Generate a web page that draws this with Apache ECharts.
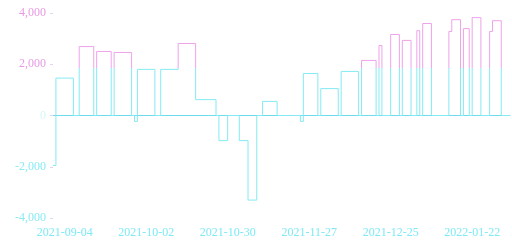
<!DOCTYPE html>
<html>
<head>
<meta charset="utf-8">
<script src="https://cdn.jsdelivr.net/npm/echarts@6/dist/echarts.min.js"></script>
<style>
  html, body { margin: 0; padding: 0; background: #fff; }
  #main { width: 512px; height: 242px; }
</style>
</head>
<body>
<div id="main"></div>
<script>
// step points: value holds from its date until the next date
const stepDates = [
    '2021-08-31', '2021-09-01', '2021-09-07', '2021-09-09', '2021-09-14',
    '2021-09-15', '2021-09-20', '2021-09-21', '2021-09-27', '2021-09-28',
    '2021-09-29', '2021-10-05', '2021-10-07', '2021-10-13', '2021-10-19',
    '2021-10-26', '2021-10-27', '2021-10-30', '2021-11-03', '2021-11-06',
    '2021-11-09', '2021-11-11', '2021-11-16', '2021-11-24', '2021-11-25',
    '2021-11-30', '2021-12-01', '2021-12-07', '2021-12-08', '2021-12-14',
    '2021-12-15', '2021-12-20', '2021-12-21', '2021-12-22', '2021-12-25',
    '2021-12-28', '2021-12-29', '2022-01-01', '2022-01-03', '2022-01-04',
    '2022-01-05', '2022-01-08', '2022-01-14', '2022-01-15', '2022-01-18',
    '2022-01-19', '2022-01-21', '2022-01-22', '2022-01-25', '2022-01-28',
    '2022-01-29', '2022-02-01', '2022-02-04'
];
const stepValues = [
    -1950, 1460, 0, 2690, 0,
    2500, 0, 2460, 0, -230,
    1800, 0, 1800, 2810, 620,
    0, -980, 0, -980, -3300,
    0, 550, 0, -230, 1640,
    0, 1050, 0, 1720, 0,
    2150, 0, 2730, 0, 3160,
    0, 2930, 0, 3310, 0,
    3590, 0, 3280, 3740, 0,
    3390, 0, 3820, 0, 3280,
    3700, 0, 0
];
const tickDates = ['2021-09-04', '2021-10-02', '2021-10-30', '2021-11-27', '2021-12-25', '2022-01-22'];
const yTicks = [-4000, -2000, 0, 2000, 4000];
const threshold = 1850;

const cyan = '#84eaf3';
const magenta = '#eea2ea';

function toTime(s) {
    var p = s.split('-');
    return Date.UTC(+p[0], +p[1] - 1, +p[2]);
}
function pad(n) {
    return n < 10 ? '0' + n : '' + n;
}
function fmtDate(t) {
    var d = new Date(t);
    return d.getUTCFullYear() + '-' + pad(d.getUTCMonth() + 1) + '-' + pad(d.getUTCDate());
}
function fmtNum(v) {
    var s = Math.abs(v).toString().replace(/\B(?=(\d{3})+(?!\d))/g, ',');
    return (v < 0 ? '-' : '') + s;
}

var seriesData = stepDates.map(function (d, i) {
    return [toTime(d), stepValues[i]];
});
var xMin = toTime('2021-08-31');
var xMax = toTime('2022-02-04');
var tickTimes = tickDates.map(toTime);

var myChart = echarts.init(document.getElementById('main'));

var option = {
    animation: false,
    backgroundColor: '#fff',
    textStyle: { fontFamily: 'Liberation Serif' },
    grid: { left: 53, right: 2, top: 13, bottom: 24 },
    xAxis: [
        {
            type: 'value',
            min: xMin,
            max: xMax,
            axisLine: { show: false, onZero: false },
            axisTick: { show: false, customValues: tickTimes },
            splitLine: { show: false },
            axisLabel: {
                customValues: tickTimes,
                formatter: function (v) { return fmtDate(v); },
                color: '#7fe9f4',
                fontFamily: 'Liberation Serif',
                fontSize: 12,
                margin: 9
            }
        },
        {
            // zero baseline
            type: 'value',
            position: 'bottom',
            min: xMin,
            max: xMax,
            axisLine: { show: true, onZero: true, lineStyle: { color: '#6fdcee', width: 1 } },
            axisTick: { show: false },
            axisLabel: { show: false },
            splitLine: { show: false }
        }
    ],
    yAxis: {
        type: 'value',
        min: yTicks[0],
        max: yTicks[yTicks.length - 1],
        interval: 2000,
        axisLine: { show: false },
        axisTick: { show: true, length: 3, lineStyle: { color: '#e6d2ef' } },
        splitLine: { show: false },
        axisLabel: {
            formatter: function (v) { return fmtNum(v); },
            color: function (v) {
                v = +v;
                if (v === 0) return '#d6f6f9';
                return v > threshold ? '#e79ae4' : '#8aebf4';
            },
            fontFamily: 'Liberation Serif',
            fontSize: 12,
            margin: 7
        }
    },
    visualMap: {
        show: false,
        type: 'piecewise',
        seriesIndex: 0,
        dimension: 1,
        pieces: [
            { gt: threshold, lte: 5000, color: magenta },
            { gte: -5000, lte: threshold, color: cyan }
        ]
    },
    series: [
        {
            type: 'line',
            step: 'end',
            showSymbol: false,
            symbol: 'none',
            data: seriesData,
            lineStyle: { width: 1 }
        }
    ]
};

myChart.setOption(option);
</script>
</body>
</html>
